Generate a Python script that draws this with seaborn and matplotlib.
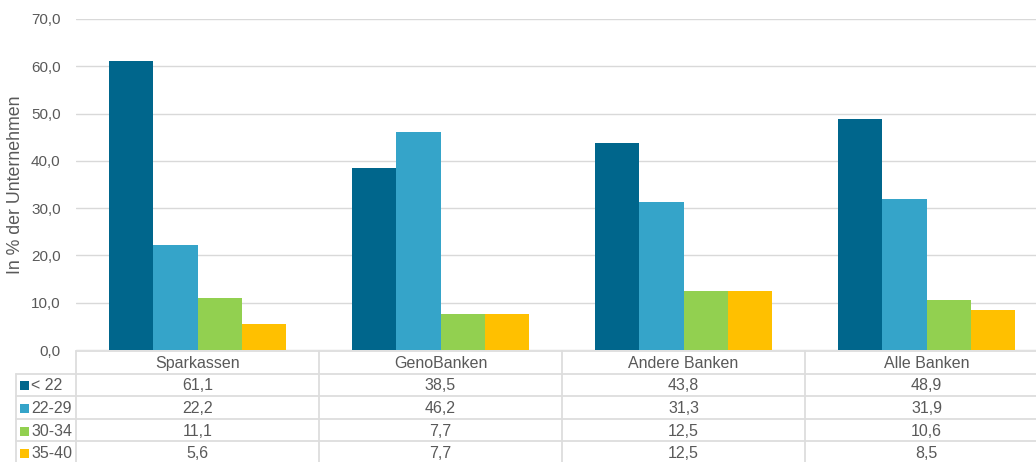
import matplotlib
matplotlib.use("Agg")
import matplotlib.pyplot as plt
import seaborn as sns
import pandas as pd
from matplotlib.patches import Rectangle

categories = ["Sparkassen", "GenoBanken", "Andere Banken", "Alle Banken"]
series_names = ["< 22", "22-29", "30-34", "35-40"]
v_lt22 = [61.1, 38.5, 43.8, 48.9]
v_22_29 = [22.2, 46.2, 31.3, 31.9]
v_30_34 = [11.1, 7.7, 12.5, 10.6]
v_35_40 = [5.6, 7.7, 12.5, 8.5]
colors = ["#00668C", "#35A4C9", "#92D050", "#FFC000"]
yticks = [0, 10, 20, 30, 40, 50, 60, 70]

series_vals = [v_lt22, v_22_29, v_30_34, v_35_40]
rows = []
for s, vals in zip(series_names, series_vals):
    for c, v in zip(categories, vals):
        rows.append({"cat": c, "series": s, "val": v})
df = pd.DataFrame(rows)

sns.set_style("white")
plt.rcParams["font.family"] = ["Liberation Sans", "DejaVu Sans"]

W, H = 1036, 462
fig = plt.figure(figsize=(W / 100, H / 100), dpi=100)
left_px, right_px = 76, 1048
top_px, bot_px = 19, 350
ax = fig.add_axes([left_px / W, (H - bot_px) / H, (right_px - left_px) / W, (bot_px - top_px) / H])

sns.barplot(data=df, x="cat", y="val", hue="series", palette=colors, ax=ax,
            width=0.73, dodge=True, saturation=1, legend=False, linewidth=0)
ax.set_ylim(0, 70)
ax.set_xlim(-0.5, 3.5)
ax.set_yticks(yticks)
ax.set_yticklabels([f"{t:.1f}".replace(".", ",") for t in yticks], fontsize=11, color="#595959")
ax.set_xticks([])
ax.set_xlabel("")
ax.set_ylabel("In % der Unternehmen", fontsize=12.8, color="#595959", labelpad=5)
ax.yaxis.grid(True, color="#D9D9D9", linewidth=1)
ax.set_axisbelow(True)
for sp in ax.spines.values():
    sp.set_visible(False)
ax.tick_params(axis="y", length=0, pad=11)

# data table below
tab_top_px = 351
row_h = 22.6
tax = fig.add_axes([0, 0, 1, 1], facecolor="none")
tax.set_xlim(0, W)
tax.set_ylim(H, 0)
tax.axis("off")
lc = "#DDDDDD"
col_w = (right_px - left_px) / 4
leg_left = 16
nrows = 5
lw = 1.3
tax.plot([left_px, right_px], [tab_top_px, tab_top_px], color=lc, lw=lw)
for r in range(1, nrows + 1):
    y = tab_top_px + r * row_h
    tax.plot([leg_left, right_px], [y, y], color=lc, lw=lw)
tax.plot([leg_left, leg_left], [tab_top_px + row_h, H + 5], color=lc, lw=lw)
for cidx in range(0, 5):
    x = left_px + cidx * col_w
    tax.plot([x, x], [tab_top_px, H + 5], color=lc, lw=lw)
for i, c in enumerate(categories):
    tax.text(left_px + (i + 0.5) * col_w, tab_top_px + row_h / 2 + 1, c,
             ha="center", va="center", fontsize=11.5, color="#595959")
for r, (s, vals, col) in enumerate(zip(series_names, series_vals, colors)):
    yc = tab_top_px + (r + 1.5) * row_h + 1
    tax.add_patch(Rectangle((20, yc - 4.5), 9, 9, color=col, lw=0))
    tax.text(31, yc, s, ha="left", va="center", fontsize=11.5, color="#595959")
    for i, v in enumerate(vals):
        tax.text(left_px + (i + 0.5) * col_w, yc, f"{v:.1f}".replace(".", ","),
                 ha="center", va="center", fontsize=11.5, color="#595959")

fig.savefig("out.png", dpi=100)
